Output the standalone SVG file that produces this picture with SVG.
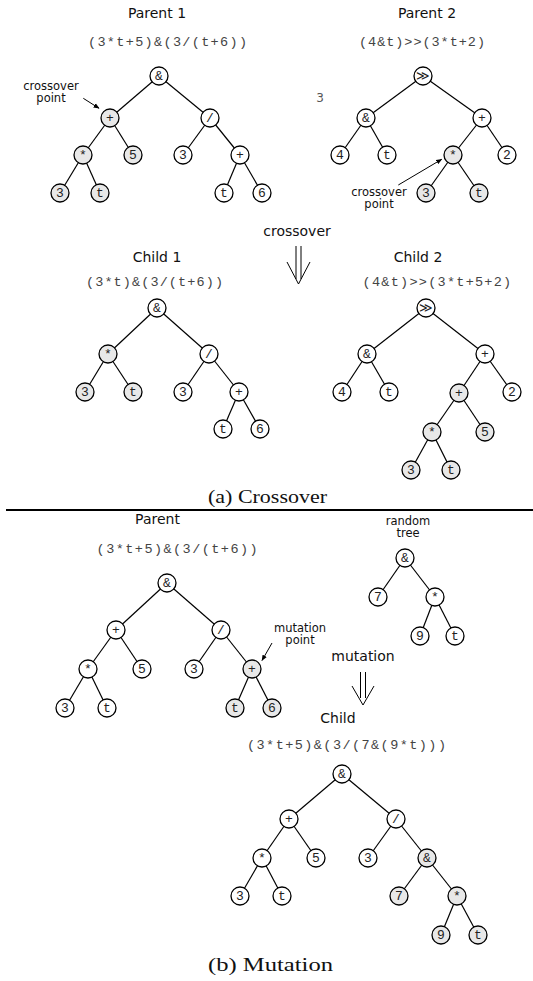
<svg xmlns="http://www.w3.org/2000/svg" width="533" height="981" viewBox="0 0 533 981">
<style>
.n{fill:#fff;stroke:#000;stroke-width:1.3}
.g{fill:#e8e8e8;stroke:#000;stroke-width:1.3}
.lb{font-family:"Liberation Mono","DejaVu Sans Mono",monospace;font-size:13px;fill:#222;text-anchor:middle}
.ex{font-family:"Liberation Mono","DejaVu Sans Mono",monospace;font-size:13.5px;fill:#444}
.tt{font-family:"DejaVu Sans",sans-serif;font-size:14px;fill:#111;text-anchor:middle}
.sm{font-family:"DejaVu Sans",sans-serif;font-size:11.5px;fill:#111;text-anchor:middle}
.cap{font-family:"Liberation Serif",serif;font-size:19px;fill:#111}
#connectors line{stroke:#000;stroke-width:1.2}
.ar{stroke:#000;stroke-width:1;fill:none}
.da{stroke:#000;stroke-width:1;fill:none}
</style>
<defs>
<marker id="ah" viewBox="0 0 10 10" refX="9" refY="5" markerWidth="6" markerHeight="6" orient="auto" markerUnits="userSpaceOnUse">
<path d="M0,1 L10,5 L0,9 z" fill="#000"/>
</marker>
</defs>

<!-- titles & expressions -->
<text class="tt" x="157" y="18">Parent 1</text>
<text class="ex" x="88" y="46" textLength="159" lengthAdjust="spacing">(3*t+5)&amp;(3/(t+6))</text>
<text class="tt" x="427" y="18">Parent 2</text>
<text class="ex" x="359" y="46" textLength="126" lengthAdjust="spacing">(4&amp;t)&gt;&gt;(3*t+2)</text>
<text x="320" y="101.5" style="font-family:'DejaVu Sans',sans-serif;font-size:12px;fill:#555;text-anchor:middle">3</text>
<text class="sm"><tspan x="51" y="90">crossover</tspan><tspan x="51" y="102">point</tspan></text>
<text class="sm"><tspan x="379" y="196">crossover</tspan><tspan x="379" y="208">point</tspan></text>
<text class="tt" x="297" y="235.5">crossover</text>
<text class="tt" x="157" y="262">Child 1</text>
<text class="ex" x="86" y="285.5" textLength="137" lengthAdjust="spacing">(3*t)&amp;(3/(t+6))</text>
<text class="tt" x="418" y="262">Child 2</text>
<text class="ex" x="362.6" y="285.5" textLength="148.6" lengthAdjust="spacing">(4&amp;t)&gt;&gt;(3*t+5+2)</text>
<text class="cap" x="208" y="503" textLength="119" lengthAdjust="spacingAndGlyphs">(a) Crossover</text>
<line x1="6" y1="510" x2="533" y2="510" stroke="#000" stroke-width="2"/>
<text class="tt" x="157.5" y="524">Parent</text>
<text class="ex" x="96.6" y="553" textLength="161" lengthAdjust="spacing">(3*t+5)&amp;(3/(t+6))</text>
<text class="sm"><tspan x="408" y="524.5">random</tspan><tspan x="408" y="536.5">tree</tspan></text>
<text class="sm"><tspan x="300" y="632">mutation</tspan><tspan x="300" y="644">point</tspan></text>
<text class="tt" x="363" y="660.5">mutation</text>
<text class="tt" x="338" y="723">Child</text>
<text class="ex" x="247" y="749" textLength="199" lengthAdjust="spacing">(3*t+5)&amp;(3/(7&amp;(9*t)))</text>
<text class="cap" x="208" y="971" textLength="125" lengthAdjust="spacingAndGlyphs">(b) Mutation</text>

<!-- pointer arrows and double arrows -->
<g id="pointers">
<line class="ar" x1="83.3" y1="98.3" x2="99" y2="108.3" marker-end="url(#ah)"/>
<line class="ar" x1="398.3" y1="185" x2="441.7" y2="159.3" marker-end="url(#ah)"/>
<line class="ar" x1="272" y1="643" x2="262" y2="660.5" marker-end="url(#ah)"/>
<path class="da" d="M296,246 V279 M301,246 V279 M287,262 L298.5,284 L310,262"/>
<path class="da" d="M360.5,672 V698 M365.5,672 V698 M352,686 L363,705 L374,686"/>
</g>

<g id="connectors">
<!-- parent 1 -->
<line x1="159" y1="76" x2="110" y2="118"/><line x1="159" y1="76" x2="210" y2="118"/>
<line x1="110" y1="118" x2="83" y2="155"/><line x1="110" y1="118" x2="133" y2="155"/>
<line x1="210" y1="118" x2="183" y2="155"/><line x1="210" y1="118" x2="240" y2="155"/>
<line x1="83" y1="155" x2="60" y2="193"/><line x1="83" y1="155" x2="100" y2="193"/>
<line x1="240" y1="155" x2="224" y2="193"/><line x1="240" y1="155" x2="262" y2="193"/>
<!-- parent 2 -->
<line x1="423" y1="76" x2="366" y2="118"/><line x1="423" y1="76" x2="482" y2="118"/>
<line x1="366" y1="118" x2="340" y2="155"/><line x1="366" y1="118" x2="387" y2="155"/>
<line x1="482" y1="118" x2="453" y2="155"/><line x1="482" y1="118" x2="507" y2="155"/>
<line x1="453" y1="155" x2="426" y2="193"/><line x1="453" y1="155" x2="479" y2="193"/>
<!-- child 1 -->
<line x1="157" y1="308" x2="108" y2="354"/><line x1="157" y1="308" x2="209" y2="354"/>
<line x1="108" y1="354" x2="85" y2="392"/><line x1="108" y1="354" x2="133" y2="392"/>
<line x1="209" y1="354" x2="183" y2="392"/><line x1="209" y1="354" x2="239" y2="392"/>
<line x1="239" y1="392" x2="223" y2="429"/><line x1="239" y1="392" x2="260" y2="429"/>
<!-- child 2 -->
<line x1="426" y1="308" x2="367" y2="354"/><line x1="426" y1="308" x2="485" y2="354"/>
<line x1="367" y1="354" x2="342" y2="392"/><line x1="367" y1="354" x2="389" y2="392"/>
<line x1="485" y1="354" x2="459" y2="393"/><line x1="485" y1="354" x2="512" y2="392"/>
<line x1="459" y1="393" x2="432" y2="432"/><line x1="459" y1="393" x2="485" y2="432"/>
<line x1="432" y1="432" x2="411" y2="470"/><line x1="432" y1="432" x2="451" y2="470"/>
<!-- mutation parent -->
<line x1="167" y1="583" x2="116" y2="630"/><line x1="167" y1="583" x2="221" y2="630"/>
<line x1="116" y1="630" x2="88" y2="669"/><line x1="116" y1="630" x2="142" y2="669"/>
<line x1="221" y1="630" x2="194" y2="669"/><line x1="221" y1="630" x2="252" y2="669"/>
<line x1="88" y1="669" x2="65" y2="708"/><line x1="88" y1="669" x2="107" y2="708"/>
<line x1="252" y1="669" x2="235" y2="708"/><line x1="252" y1="669" x2="272" y2="708"/>
<!-- random tree -->
<line x1="405" y1="558" x2="378" y2="597"/><line x1="405" y1="558" x2="435" y2="597"/>
<line x1="435" y1="597" x2="420" y2="636"/><line x1="435" y1="597" x2="455" y2="636"/>
<!-- mutation child -->
<line x1="342" y1="774" x2="289" y2="819"/><line x1="342" y1="774" x2="396" y2="819"/>
<line x1="289" y1="819" x2="262" y2="858"/><line x1="289" y1="819" x2="316" y2="858"/>
<line x1="396" y1="819" x2="368" y2="858"/><line x1="396" y1="819" x2="427" y2="858"/>
<line x1="262" y1="858" x2="240" y2="896"/><line x1="262" y1="858" x2="282" y2="896"/>
<line x1="427" y1="858" x2="399" y2="896"/><line x1="427" y1="858" x2="457" y2="896"/>
<line x1="457" y1="896" x2="441" y2="935"/><line x1="457" y1="896" x2="478" y2="935"/>
</g>

<!-- parent 1 nodes -->
<g id="p1_and"><circle class="n" cx="159" cy="76" r="9"/><text class="lb" x="159" y="80">&amp;</text></g>
<g id="p1_plus"><circle class="g" cx="110" cy="118" r="9"/><text class="lb" x="110" y="122">+</text></g>
<g id="p1_div"><circle class="n" cx="210" cy="118" r="9"/><text class="lb" x="210" y="122">/</text></g>
<g id="p1_mul"><circle class="g" cx="83" cy="155" r="9"/><text class="lb" x="83" y="159">*</text></g>
<g id="p1_5"><circle class="g" cx="133" cy="155" r="9"/><text class="lb" x="133" y="159">5</text></g>
<g id="p1_3b"><circle class="n" cx="183" cy="155" r="9"/><text class="lb" x="183" y="159">3</text></g>
<g id="p1_plus2"><circle class="n" cx="240" cy="155" r="9"/><text class="lb" x="240" y="159">+</text></g>
<g id="p1_3"><circle class="g" cx="60" cy="193" r="9"/><text class="lb" x="60" y="197">3</text></g>
<g id="p1_t"><circle class="g" cx="100" cy="193" r="9"/><text class="lb" x="100" y="197">t</text></g>
<g id="p1_t2"><circle class="n" cx="224" cy="193" r="9"/><text class="lb" x="224" y="197">t</text></g>
<g id="p1_6"><circle class="n" cx="262" cy="193" r="9"/><text class="lb" x="262" y="197">6</text></g>

<!-- parent 2 nodes -->
<g id="p2_shr"><circle class="n" cx="423" cy="76" r="9"/><text class="lb" x="423" y="80">≫</text></g>
<g id="p2_and"><circle class="n" cx="366" cy="118" r="9"/><text class="lb" x="366" y="122">&amp;</text></g>
<g id="p2_plus"><circle class="n" cx="482" cy="118" r="9"/><text class="lb" x="482" y="122">+</text></g>
<g id="p2_4"><circle class="n" cx="340" cy="155" r="9"/><text class="lb" x="340" y="159">4</text></g>
<g id="p2_t"><circle class="n" cx="387" cy="155" r="9"/><text class="lb" x="387" y="159">t</text></g>
<g id="p2_mul"><circle class="g" cx="453" cy="155" r="9"/><text class="lb" x="453" y="159">*</text></g>
<g id="p2_2"><circle class="n" cx="507" cy="155" r="9"/><text class="lb" x="507" y="159">2</text></g>
<g id="p2_3"><circle class="g" cx="426" cy="193" r="9"/><text class="lb" x="426" y="197">3</text></g>
<g id="p2_t2"><circle class="g" cx="479" cy="193" r="9"/><text class="lb" x="479" y="197">t</text></g>

<!-- child 1 nodes -->
<g id="c1_and"><circle class="n" cx="157" cy="308" r="9"/><text class="lb" x="157" y="312">&amp;</text></g>
<g id="c1_mul"><circle class="g" cx="108" cy="354" r="9"/><text class="lb" x="108" y="358">*</text></g>
<g id="c1_div"><circle class="n" cx="209" cy="354" r="9"/><text class="lb" x="209" y="358">/</text></g>
<g id="c1_3"><circle class="g" cx="85" cy="392" r="9"/><text class="lb" x="85" y="396">3</text></g>
<g id="c1_t"><circle class="g" cx="133" cy="392" r="9"/><text class="lb" x="133" y="396">t</text></g>
<g id="c1_3b"><circle class="n" cx="183" cy="392" r="9"/><text class="lb" x="183" y="396">3</text></g>
<g id="c1_plus"><circle class="n" cx="239" cy="392" r="9"/><text class="lb" x="239" y="396">+</text></g>
<g id="c1_t2"><circle class="n" cx="223" cy="429" r="9"/><text class="lb" x="223" y="433">t</text></g>
<g id="c1_6"><circle class="n" cx="260" cy="429" r="9"/><text class="lb" x="260" y="433">6</text></g>

<!-- child 2 nodes -->
<g id="c2_shr"><circle class="n" cx="426" cy="308" r="9"/><text class="lb" x="426" y="312">≫</text></g>
<g id="c2_and"><circle class="n" cx="367" cy="354" r="9"/><text class="lb" x="367" y="358">&amp;</text></g>
<g id="c2_plus"><circle class="n" cx="485" cy="354" r="9"/><text class="lb" x="485" y="358">+</text></g>
<g id="c2_4"><circle class="n" cx="342" cy="392" r="9"/><text class="lb" x="342" y="396">4</text></g>
<g id="c2_t"><circle class="n" cx="389" cy="392" r="9"/><text class="lb" x="389" y="396">t</text></g>
<g id="c2_plus2"><circle class="g" cx="459" cy="393" r="9"/><text class="lb" x="459" y="397">+</text></g>
<g id="c2_2"><circle class="n" cx="512" cy="392" r="9"/><text class="lb" x="512" y="396">2</text></g>
<g id="c2_mul"><circle class="g" cx="432" cy="432" r="9"/><text class="lb" x="432" y="436">*</text></g>
<g id="c2_5"><circle class="g" cx="485" cy="432" r="9"/><text class="lb" x="485" y="436">5</text></g>
<g id="c2_3"><circle class="g" cx="411" cy="470" r="9"/><text class="lb" x="411" y="474">3</text></g>
<g id="c2_t2"><circle class="g" cx="451" cy="470" r="9"/><text class="lb" x="451" y="474">t</text></g>

<!-- mutation parent nodes -->
<g id="mp_and"><circle class="n" cx="167" cy="583" r="9"/><text class="lb" x="167" y="587">&amp;</text></g>
<g id="mp_plus"><circle class="n" cx="116" cy="630" r="9"/><text class="lb" x="116" y="634">+</text></g>
<g id="mp_div"><circle class="n" cx="221" cy="630" r="9"/><text class="lb" x="221" y="634">/</text></g>
<g id="mp_mul"><circle class="n" cx="88" cy="669" r="9"/><text class="lb" x="88" y="673">*</text></g>
<g id="mp_5"><circle class="n" cx="142" cy="669" r="9"/><text class="lb" x="142" y="673">5</text></g>
<g id="mp_3b"><circle class="n" cx="194" cy="669" r="9"/><text class="lb" x="194" y="673">3</text></g>
<g id="mp_plus2"><circle class="g" cx="252" cy="669" r="9"/><text class="lb" x="252" y="673">+</text></g>
<g id="mp_3"><circle class="n" cx="65" cy="708" r="9"/><text class="lb" x="65" y="712">3</text></g>
<g id="mp_t"><circle class="n" cx="107" cy="708" r="9"/><text class="lb" x="107" y="712">t</text></g>
<g id="mp_t2"><circle class="g" cx="235" cy="708" r="9"/><text class="lb" x="235" y="712">t</text></g>
<g id="mp_6"><circle class="g" cx="272" cy="708" r="9"/><text class="lb" x="272" y="712">6</text></g>

<!-- random tree nodes -->
<g id="r_and"><circle class="n" cx="405" cy="558" r="9"/><text class="lb" x="405" y="562">&amp;</text></g>
<g id="r_7"><circle class="n" cx="378" cy="597" r="9"/><text class="lb" x="378" y="601">7</text></g>
<g id="r_mul"><circle class="n" cx="435" cy="597" r="9"/><text class="lb" x="435" y="601">*</text></g>
<g id="r_9"><circle class="n" cx="420" cy="636" r="9"/><text class="lb" x="420" y="640">9</text></g>
<g id="r_t"><circle class="n" cx="455" cy="636" r="9"/><text class="lb" x="455" y="640">t</text></g>

<!-- mutation child nodes -->
<g id="ch_and"><circle class="n" cx="342" cy="774" r="9"/><text class="lb" x="342" y="778">&amp;</text></g>
<g id="ch_plus"><circle class="n" cx="289" cy="819" r="9"/><text class="lb" x="289" y="823">+</text></g>
<g id="ch_div"><circle class="n" cx="396" cy="819" r="9"/><text class="lb" x="396" y="823">/</text></g>
<g id="ch_mul"><circle class="n" cx="262" cy="858" r="9"/><text class="lb" x="262" y="862">*</text></g>
<g id="ch_5"><circle class="n" cx="316" cy="858" r="9"/><text class="lb" x="316" y="862">5</text></g>
<g id="ch_3b"><circle class="n" cx="368" cy="858" r="9"/><text class="lb" x="368" y="862">3</text></g>
<g id="ch_and2"><circle class="g" cx="427" cy="858" r="9"/><text class="lb" x="427" y="862">&amp;</text></g>
<g id="ch_3"><circle class="n" cx="240" cy="896" r="9"/><text class="lb" x="240" y="900">3</text></g>
<g id="ch_t"><circle class="n" cx="282" cy="896" r="9"/><text class="lb" x="282" y="900">t</text></g>
<g id="ch_7"><circle class="g" cx="399" cy="896" r="9"/><text class="lb" x="399" y="900">7</text></g>
<g id="ch_mul2"><circle class="g" cx="457" cy="896" r="9"/><text class="lb" x="457" y="900">*</text></g>
<g id="ch_9"><circle class="g" cx="441" cy="935" r="9"/><text class="lb" x="441" y="939">9</text></g>
<g id="ch_t2"><circle class="g" cx="478" cy="935" r="9"/><text class="lb" x="478" y="939">t</text></g>
</svg>
